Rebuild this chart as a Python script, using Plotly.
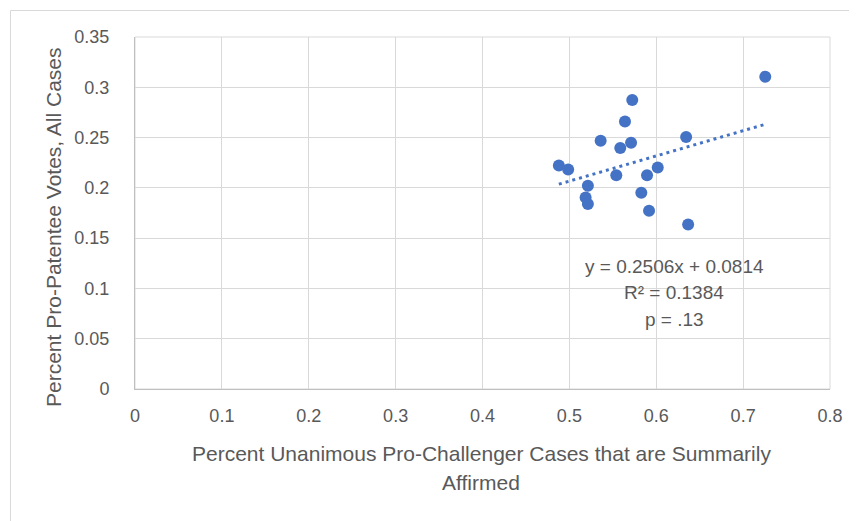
import plotly.graph_objects as go

# ---- data ----
x_vals = [0.7255, 0.5724, 0.5640, 0.5360, 0.5710, 0.5586, 0.6344, 0.4879, 0.4986,
          0.6017, 0.5540, 0.5894, 0.5213, 0.5828, 0.5187, 0.5213, 0.5917, 0.6367]
y_vals = [0.3105, 0.2874, 0.2660, 0.2469, 0.2449, 0.2396, 0.2505, 0.2222, 0.2182,
          0.2202, 0.2126, 0.2126, 0.2020, 0.1951, 0.1905, 0.1839, 0.1773, 0.1635]

trend_slope = 0.2506
trend_intercept = 0.0814

x_ticks = [0, 0.1, 0.2, 0.3, 0.4, 0.5, 0.6, 0.7, 0.8]
x_tick_labels = ["0", "0.1", "0.2", "0.3", "0.4", "0.5", "0.6", "0.7", "0.8"]
y_ticks = [0, 0.05, 0.1, 0.15, 0.2, 0.25, 0.3, 0.35]
y_tick_labels = ["0", "0.05", "0.1", "0.15", "0.2", "0.25", "0.3", "0.35"]

stats_lines = ["y = 0.2506x + 0.0814", "R² = 0.1384", "p = .13"]
x_title_lines = ["Percent Unanimous Pro-Challenger Cases that are Summarily", "Affirmed"]
y_title = "Percent Pro-Patentee Votes, All Cases"

BLUE = "#4472C4"
TXT = "#595959"
FONT = "Liberation Sans"

trend_x = [min(x_vals), max(x_vals)]
trend_y = [trend_slope * v + trend_intercept for v in trend_x]

fig = go.Figure()
fig.add_trace(go.Scatter(x=x_vals, y=y_vals, mode="markers",
                         marker=dict(color=BLUE, size=12, line=dict(width=0)),
                         showlegend=False, hoverinfo="x+y"))
fig.add_trace(go.Scatter(x=trend_x, y=trend_y, mode="lines",
                         line=dict(color=BLUE, width=3, dash="3px,4px"),
                         showlegend=False, hoverinfo="skip"))

# The page body adds an 8px offset; the figure is sized to fill the rest.
OFF = 8
W, H = 857 - OFF, 521 - OFF
PL, PT, PR, PB = 135, 37, 830, 389          # plot-area edges in window pixels
L, T = PL - OFF, PT - OFF
R, B = W - (PR - OFF), H - (PB - OFF)
pw, ph = PR - PL, PB - PT


def px_x(px):
    return (px - PL) / pw


def px_y(py):
    return (PB - py) / ph


fig.update_layout(
    width=W, height=H,
    margin=dict(l=L, r=R, t=T, b=B),
    paper_bgcolor="white", plot_bgcolor="white",
    font=dict(family=FONT, color=TXT, size=18),
    xaxis=dict(range=[0, 0.8], tickvals=x_ticks, ticktext=x_tick_labels,
               showgrid=True, gridcolor="#D9D9D9", gridwidth=1,
               showline=True, linecolor="#BFBFBF", linewidth=1,
               zeroline=False, ticks="", ticklabelstandoff=10,
               tickfont=dict(family=FONT, size=18, color=TXT)),
    yaxis=dict(range=[0, 0.35], tickvals=y_ticks, ticktext=y_tick_labels,
               showgrid=True, gridcolor="#D9D9D9", gridwidth=1,
               showline=True, linecolor="#BFBFBF", linewidth=1,
               zeroline=False, ticks="", ticklabelstandoff=21,
               tickfont=dict(family=FONT, size=18, color=TXT)),
)

# plot-area frame (top/right light) and outer chart border
fig.add_shape(type="rect", xref="paper", yref="paper", x0=0, y0=0, x1=1, y1=1,
              line=dict(color="#D9D9D9", width=1), layer="below")
fig.add_shape(type="rect", xref="paper", yref="paper",
              x0=px_x(10.5), y0=px_y(10.5), x1=px_x(900), y1=px_y(560),
              line=dict(color="#D9D9D9", width=1), layer="below")

# regression statistics
stat_px_y = [266, 292, 319]
for txt, py in zip(stats_lines, stat_px_y):
    fig.add_annotation(x=px_x(674), y=px_y(py), xref="paper", yref="paper",
                       text=txt, showarrow=False, xanchor="center", yanchor="middle",
                       font=dict(family=FONT, size=19, color=TXT))

# axis titles
for txt, py in zip(x_title_lines, [453, 482]):
    fig.add_annotation(x=px_x(481), y=px_y(py), xref="paper", yref="paper",
                       text=txt, showarrow=False, xanchor="center", yanchor="middle",
                       font=dict(family=FONT, size=21, color=TXT))
fig.add_annotation(x=px_x(53), y=px_y(227), xref="paper", yref="paper",
                   text=y_title, showarrow=False, textangle=-90,
                   xanchor="center", yanchor="middle",
                   font=dict(family=FONT, size=21, color=TXT))

fig.write_html("out.html")
